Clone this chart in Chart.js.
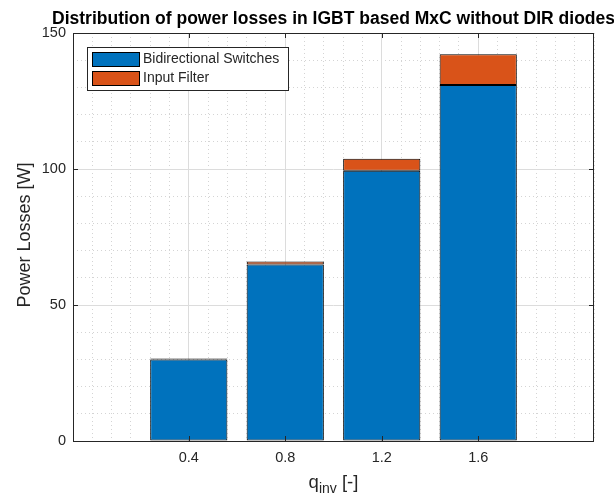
<!DOCTYPE html>
<html>
<head>
<meta charset="utf-8">
<script src="https://cdn.jsdelivr.net/npm/chart.js@4"></script>
<style>
  html, body { margin: 0; padding: 0; background: #fff; }
  canvas { display: block; }
</style>
</head>
<body>
<canvas id="lossChart" width="614" height="497"></canvas>
<script>
// q_inv values and the two loss components (W)
const qInv = [0.4, 0.8, 1.2, 1.6];
const switchLosses = [30.0, 64.9, 99.4, 130.9];
const filterLosses = [0.3, 1.1, 4.4, 11.3];
const xTickLabels = ["0.4", "0.8", "1.2", "1.6"];
const yTicks = [0, 50, 100, 150];

const seriesNames = ["Bidirectional Switches", "Input Filter"];
const seriesColors = ["#0072BD", "#D95319"];

const FONT = "'Liberation Sans', Arial, sans-serif";
const AXIS_COLOR = "#262626";

// grid steps (MATLAB-like minor grid)
const xMin = -0.08, xMax = 2.08, xMinorStep = 0.08;
const yMin = 0, yMax = 150, yMinorStep = 10;

function minorTicks(min, max, step, majors) {
  const out = [];
  const n = Math.round((max - min) / step);
  for (let i = 0; i <= n; i++) {
    const v = +(min + i * step).toFixed(4);
    if (!majors.some((m) => Math.abs(m - v) < 1e-6)) out.push({ value: v });
  }
  return out;
}

const decoracion = {
  id: "decoracion",
  afterDraw(chart) {
    const ctx = chart.ctx;
    const a = chart.chartArea;
    const sx = chart.scales.x;
    const sy = chart.scales.y;
    ctx.save();

    // axes box
    ctx.strokeStyle = AXIS_COLOR;
    ctx.lineWidth = 1;
    ctx.strokeRect(Math.round(a.left) + 0.5, Math.round(a.top) + 0.5,
      Math.round(a.right - a.left) - 1, Math.round(a.bottom - a.top));

    // inward ticks
    const tl = 5;
    ctx.beginPath();
    qInv.forEach((v) => {
      const px = Math.round(sx.getPixelForValue(v)) + 0.5;
      ctx.moveTo(px, a.bottom); ctx.lineTo(px, a.bottom - tl);
      ctx.moveTo(px, a.top); ctx.lineTo(px, a.top + tl);
    });
    yTicks.forEach((v) => {
      const py = Math.round(sy.getPixelForValue(v)) + 0.5;
      ctx.moveTo(a.left, py); ctx.lineTo(a.left + tl, py);
      ctx.moveTo(a.right, py); ctx.lineTo(a.right - tl, py);
    });
    ctx.stroke();

    // tick labels
    ctx.fillStyle = AXIS_COLOR;
    ctx.font = "14.5px " + FONT;
    ctx.textAlign = "center";
    ctx.textBaseline = "middle";
    qInv.forEach((v, i) => {
      ctx.fillText(xTickLabels[i], sx.getPixelForValue(v), a.bottom + 17);
    });
    ctx.textAlign = "right";
    yTicks.forEach((v) => {
      ctx.fillText(String(v), a.left - 7, sy.getPixelForValue(v));
    });

    // y label
    ctx.save();
    ctx.translate(25.5, (a.top + a.bottom) / 2 - 2);
    ctx.rotate(-Math.PI / 2);
    ctx.textAlign = "center";
    ctx.font = "18px " + FONT;
    ctx.fillText("Power Losses [W]", 0, 0);
    ctx.restore();

    // x label: q_inv [-]
    ctx.textBaseline = "alphabetic";
    ctx.textAlign = "left";
    const mainF = "18.5px " + FONT, subF = "14px " + FONT;
    ctx.font = mainF; const wq = ctx.measureText("q").width;
    ctx.font = subF; const ws = ctx.measureText("inv").width;
    ctx.font = mainF; const wr = ctx.measureText(" [-]").width;
    let x0 = (a.left + a.right) / 2 - (wq + ws + wr) / 2;
    const base = 488;
    ctx.font = mainF; ctx.fillText("q", x0, base);
    ctx.font = subF; ctx.fillText("inv", x0 + wq, base + 5);
    ctx.font = mainF; ctx.fillText(" [-]", x0 + wq + ws, base);

    // title
    ctx.fillStyle = "#000";
    ctx.font = "bold 17.5px " + FONT;
    ctx.textAlign = "center";
    ctx.fillText("Distribution of power losses in IGBT based MxC without DIR diodes",
      (a.left + a.right) / 2, 24);

    // legend
    const lx = 87, ly = 47, lw = 201, lh = 43;
    ctx.fillStyle = "#fff";
    ctx.fillRect(lx, ly, lw, lh);
    ctx.strokeStyle = AXIS_COLOR;
    ctx.strokeRect(lx + 0.5, ly + 0.5, lw, lh);
    ctx.font = "14px " + FONT;
    ctx.textAlign = "left";
    ctx.textBaseline = "middle";
    seriesNames.forEach((name, i) => {
      const py = 52 + i * 19;
      ctx.fillStyle = seriesColors[i];
      ctx.fillRect(92, py, 47, 14);
      ctx.strokeStyle = "#000";
      ctx.strokeRect(92.5, py + 0.5, 47, 14);
      ctx.fillStyle = AXIS_COLOR;
      ctx.fillText(name, 143, py + 7.5);
    });

    ctx.restore();
  },
};

function crearChart() {
  const ctx = document.getElementById("lossChart").getContext("2d");
  const hideSize = (dim) => (s) => { s[dim] = 0; };

  new Chart(ctx, {
    type: "bar",
    data: {
      datasets: [
        {
          label: seriesNames[0],
          data: qInv.map((q, i) => ({ x: q, y: switchLosses[i] })),
          backgroundColor: seriesColors[0],
        },
        {
          label: seriesNames[1],
          data: qInv.map((q, i) => ({ x: q, y: filterLosses[i] })),
          backgroundColor: seriesColors[1],
        },
      ].map((d) => Object.assign(d, {
        borderColor: "#000",
        borderWidth: 1,
        borderSkipped: false,
        barPercentage: 0.8,
        categoryPercentage: 1,
        xAxisID: "x",
        yAxisID: "y",
      })),
    },
    options: {
      responsive: false,
      animation: false,
      devicePixelRatio: 1,
      layout: { padding: { left: 73, top: 33, right: 20, bottom: 56 } },
      plugins: { legend: { display: false }, tooltip: { enabled: false }, title: { display: false } },
      scales: {
        xm: {
          type: "linear", position: "bottom", min: xMin, max: xMax, offset: false,
          afterBuildTicks: (s) => { s.ticks = minorTicks(xMin, xMax, xMinorStep, qInv); },
          ticks: { display: false },
          grid: { color: "#d4d4d4", drawTicks: false, offset: false },
          border: { display: false, dash: [1, 3] },
          afterFit: hideSize("height"),
        },
        ym: {
          type: "linear", position: "left", min: yMin, max: yMax,
          afterBuildTicks: (s) => { s.ticks = minorTicks(yMin, yMax, yMinorStep, yTicks); },
          ticks: { display: false },
          grid: { color: "#d4d4d4", drawTicks: false },
          border: { display: false, dash: [1, 3] },
          afterFit: hideSize("width"),
        },
        x: {
          type: "linear", position: "bottom", min: xMin, max: xMax, offset: false, stacked: true,
          afterBuildTicks: (s) => { s.ticks = qInv.map((v) => ({ value: v })); },
          ticks: { display: false },
          grid: { color: "#dcdcdc", drawTicks: false, offset: false },
          border: { display: false },
          afterFit: hideSize("height"),
        },
        y: {
          type: "linear", position: "left", min: yMin, max: yMax, stacked: true,
          afterBuildTicks: (s) => { s.ticks = yTicks.map((v) => ({ value: v })); },
          ticks: { display: false },
          grid: { color: "#dcdcdc", drawTicks: false },
          border: { display: false },
          afterFit: hideSize("width"),
        },
      },
    },
    plugins: [decoracion],
  });
}

document.addEventListener("DOMContentLoaded", crearChart);
</script>
</body>
</html>
